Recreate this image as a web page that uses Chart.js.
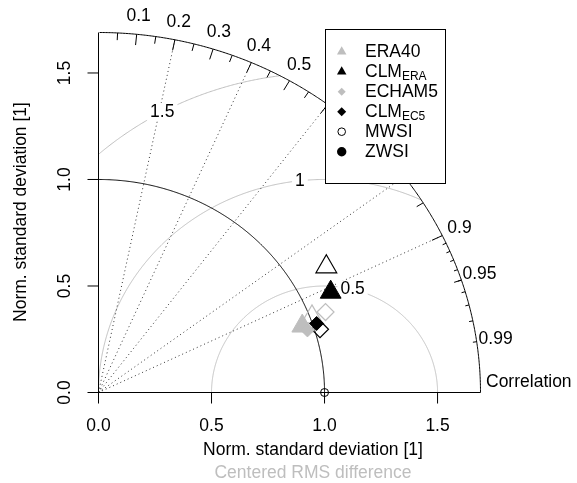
<!DOCTYPE html>
<html>
<head>
<meta charset="utf-8">
<title>Taylor diagram</title>
<script src="https://cdn.jsdelivr.net/npm/chart.js@4.4.0/dist/chart.umd.min.js"></script>
<style>
  html, body { margin: 0; padding: 0; background: #fff; }
  canvas { display: block; }
</style>
</head>
<body>
<canvas id="taylor" width="577" height="483"></canvas>
<script>
// normalised standard deviation and correlation of each model, per station set
const models = ['ERA40', 'CLM_ERA', 'ECHAM5', 'CLM_EC5'];
const sdMWSI = [1.009, 1.168, 1.073, 1.024];
const corMWSI = [0.936, 0.863, 0.936, 0.957];
const sdZWSI = [0.954, 1.130, 0.970, 1.018];
const corZWSI = [0.945, 0.909, 0.953, 0.948];

// axis furniture
const sdTicks = [0, 0.5, 1.0, 1.5];
const corTicks = [0.1, 0.2, 0.3, 0.4, 0.5, 0.6, 0.7, 0.8, 0.9, 0.95, 0.99];
const corLines = [0.2, 0.4, 0.6, 0.8, 0.9];
const rmsLevels = [0.5, 1, 1.5];
const refSd = 1;
const maxSd = 1.69;

const GRAY = '#bebebe';
const FONT = '17.5px "Liberation Sans", Arial, sans-serif';
const SUBFONT = '12px "Liberation Sans", Arial, sans-serif';

const shapeOf = ['triangle', 'triangle', 'rectRot', 'rectRot'];
const colourOf = [GRAY, '#000', GRAY, '#000'];

function toXY(sd, r) {
  return { x: sd * r, y: sd * Math.sqrt(1 - r * r) };
}

// bottom to top: reference, open (MWSI) markers, filled (ZWSI) markers
const datasets = [{
  label: 'reference',
  data: [toXY(refSd, 1)],
  pointStyle: 'circle', pointRadius: 4,
  backgroundColor: 'rgba(0,0,0,0)', borderColor: '#000', borderWidth: 1
}];
models.forEach((m, i) => {
  const tri = shapeOf[i] === 'triangle';
  datasets.push({
    label: m + ' MWSI',
    data: [toXY(sdMWSI[i], corMWSI[i])],
    pointStyle: shapeOf[i], pointRadius: tri ? 12 : 8.5,
    backgroundColor: 'rgba(0,0,0,0)', borderColor: colourOf[i], borderWidth: 1.2
  });
});
models.forEach((m, i) => {
  const tri = shapeOf[i] === 'triangle';
  datasets.push({
    label: m + ' ZWSI',
    data: [toXY(sdZWSI[i], corZWSI[i])],
    pointStyle: shapeOf[i], pointRadius: tri ? 12 : 7,
    backgroundColor: colourOf[i], borderColor: colourOf[i], borderWidth: 1
  });
});
// Chart.js paints low "order" last, so reverse the stacking
datasets.forEach((d, i) => { d.order = datasets.length - i; d.clip = false; d.pointHoverRadius = d.pointRadius; });

const legendItems = [
  { text: 'ERA40', shape: 'triangle', r: 5.5, fill: GRAY },
  { text: 'CLM', sub: 'ERA', shape: 'triangle', r: 5.5, fill: '#000' },
  { text: 'ECHAM5', shape: 'diamond', r: 4, fill: GRAY },
  { text: 'CLM', sub: 'EC5', shape: 'diamond', r: 4.5, fill: '#000' },
  { text: 'MWSI', shape: 'circle', r: 3.8, fill: null },
  { text: 'ZWSI', shape: 'circle', r: 4.7, fill: '#000' }
];

function marker(ctx, shape, x, y, r, fill) {
  ctx.beginPath();
  if (shape === 'triangle') {
    for (let k = 0; k < 3; k++) {
      const a = k * 2 * Math.PI / 3;
      const px = x + Math.sin(a) * r, py = y - Math.cos(a) * r;
      k ? ctx.lineTo(px, py) : ctx.moveTo(px, py);
    }
    ctx.closePath();
  } else if (shape === 'diamond') {
    ctx.moveTo(x, y - r); ctx.lineTo(x + r, y); ctx.lineTo(x, y + r); ctx.lineTo(x - r, y);
    ctx.closePath();
  } else {
    ctx.arc(x, y, r, 0, 2 * Math.PI);
  }
  if (fill) { ctx.fillStyle = fill; ctx.fill(); }
  else { ctx.strokeStyle = '#000'; ctx.lineWidth = 1; ctx.stroke(); }
}

const taylorFrame = {
  id: 'taylorFrame',
  beforeDatasetsDraw(chart) {
    const ctx = chart.ctx;
    const xs = chart.scales.x, ys = chart.scales.y;
    const X = v => xs.getPixelForValue(v);
    const Y = v => ys.getPixelForValue(v);
    const path = pts => {
      ctx.beginPath();
      pts.forEach((p, i) => i ? ctx.lineTo(X(p[0]), Y(p[1])) : ctx.moveTo(X(p[0]), Y(p[1])));
      ctx.stroke();
    };
    const arc = (cx, r, t0, t1) => {
      const pts = [];
      for (let t = t0; t <= t1 + 1e-9; t += 0.004) pts.push([cx + r * Math.cos(t), r * Math.sin(t)]);
      return pts;
    };
    ctx.save();
    ctx.lineWidth = 1;

    // centred RMS difference arcs round the reference
    ctx.strokeStyle = GRAY;
    rmsLevels.forEach(g => {
      const pts = arc(refSd, g, 0, Math.PI)
        .filter(p => p[0] >= -1e-6 && p[0] * p[0] + p[1] * p[1] <= maxSd * maxSd);
      path(pts);
    });

    // correlation rays
    ctx.strokeStyle = '#333';
    ctx.setLineDash([1, 3]);
    corLines.forEach(c => path([[0, 0], [maxSd * c, maxSd * Math.sqrt(1 - c * c)]]));
    ctx.setLineDash([]);

    // reference sd arc and outer boundary
    ctx.strokeStyle = '#000';
    path(arc(0, refSd, 0, Math.PI / 2));
    path(arc(0, maxSd, 0, Math.PI / 2));

    // ticks on the correlation arc
    const tick = (c, f) => {
      const s = Math.sqrt(1 - c * c);
      path([[maxSd * c, maxSd * s], [f * maxSd * c, f * maxSd * s]]);
    };
    for (let k = 1; k <= 9; k++) tick(k / 10, 0.97);
    for (let k = 0; k <= 9; k++) tick(0.05 + k / 10, 0.98);
    for (let k = 1; k <= 9; k++) tick(0.9 + k / 100, 0.99);

    // sd axes
    path([[0, 0], [0, maxSd]]);
    path([[0, 0], [maxSd, 0]]);
    ctx.font = FONT;
    ctx.fillStyle = '#000';
    ctx.textAlign = 'center';
    ctx.textBaseline = 'middle';
    sdTicks.forEach(v => {
      ctx.beginPath();
      ctx.moveTo(X(0), Y(v)); ctx.lineTo(X(0) - 11, Y(v));
      ctx.moveTo(X(v), Y(0)); ctx.lineTo(X(v), Y(0) + 11);
      ctx.stroke();
      ctx.fillText(v.toFixed(1), X(v), Y(0) + 34);
      ctx.save();
      ctx.translate(X(0) - 33, Y(v));
      ctx.rotate(-Math.PI / 2);
      ctx.fillText(v.toFixed(1), 0, 0);
      ctx.restore();
    });

    // correlation labels
    corTicks.forEach(c => {
      const s = Math.sqrt(1 - c * c);
      ctx.fillText(String(c), X(1.05 * maxSd * c), Y(1.05 * maxSd * s));
    });
    ctx.textAlign = 'left';
    ctx.fillText('Correlation', 486, Y(0) - 10);

    // RMS labels on white boxes
    ctx.textAlign = 'center';
    [1.32, 1.68, 2.07].forEach((t, i) => {
      const g = rmsLevels[i];
      const lx = X(refSd + g * Math.cos(t)), ly = Y(g * Math.sin(t));
      const w = ctx.measureText(String(g)).width + 6;
      ctx.fillStyle = '#fff';
      ctx.fillRect(lx - w / 2, ly - 9, w, 18);
      ctx.fillStyle = '#000';
      ctx.fillText(String(g), lx, ly);
    });

    // axis titles
    ctx.fillText('Norm. standard deviation [1]', 313, 450);
    ctx.fillStyle = GRAY;
    ctx.fillText('Centered RMS difference', 313, 473);
    ctx.fillStyle = '#000';
    ctx.save();
    ctx.translate(21, 212);
    ctx.rotate(-Math.PI / 2);
    ctx.fillText('Norm. standard deviation [1]', 0, 0);
    ctx.restore();
    ctx.restore();
  },
  afterDatasetsDraw(chart) {
    const ctx = chart.ctx;
    ctx.save();
    ctx.fillStyle = '#fff';
    ctx.fillRect(325.5, 29.5, 120, 154);
    ctx.strokeStyle = '#000';
    ctx.lineWidth = 1;
    ctx.strokeRect(325.5, 29.5, 120, 154);
    ctx.textAlign = 'left';
    ctx.textBaseline = 'middle';
    legendItems.forEach((it, i) => {
      const y = 51.7 + 20 * i;
      marker(ctx, it.shape, 341.7, y, it.r, it.fill);
      ctx.fillStyle = '#000';
      ctx.font = FONT;
      ctx.fillText(it.text, 365, y);
      if (it.sub) {
        const w = ctx.measureText(it.text).width;
        ctx.font = SUBFONT;
        ctx.fillText(it.sub, 365 + w, y + 5);
      }
    });
    ctx.restore();
  }
};

new Chart(document.getElementById('taylor'), {
  type: 'scatter',
  data: { datasets: datasets },
  options: {
    responsive: false,
    devicePixelRatio: 1,
    animation: false,
    events: [],
    layout: { padding: { left: 98.5, right: 96.5, top: 32.5, bottom: 90.5 } },
    scales: {
      x: { type: 'linear', min: 0, max: maxSd, display: false },
      y: { type: 'linear', min: 0, max: maxSd, display: false }
    },
    plugins: { legend: { display: false }, tooltip: { enabled: false } }
  },
  plugins: [taylorFrame]
});
</script>
</body>
</html>
